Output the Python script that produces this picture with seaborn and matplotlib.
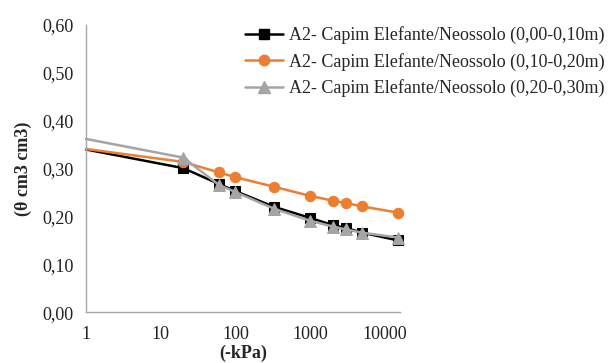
import numpy as np
import pandas as pd
import matplotlib
matplotlib.use("Agg")
import matplotlib.pyplot as plt
import seaborn as sns
from matplotlib.lines import Line2D
from matplotlib.ticker import FixedLocator, FuncFormatter, NullLocator

sns.set_theme(style="white")
plt.rcParams['font.family'] = ['Liberation Serif', 'DejaVu Serif']

# Data: pressure (-kPa); first point (1 kPa) is the curve start without a marker
pressure = [1, 20, 60, 100, 330, 1000, 2000, 3000, 5000, 15000]
theta_0_10 = [0.340, 0.301, 0.268, 0.253, 0.220, 0.197, 0.182, 0.176, 0.166, 0.150]
theta_10_20 = [0.341, 0.314, 0.292, 0.282, 0.262, 0.243, 0.233, 0.228, 0.221, 0.208]
theta_20_30 = [0.362, 0.323, 0.266, 0.251, 0.216, 0.191, 0.179, 0.173, 0.166, 0.156]

labels = ["A2- Capim Elefante/Neossolo (0,00-0,10m)",
          "A2- Capim Elefante/Neossolo (0,10-0,20m)",
          "A2- Capim Elefante/Neossolo (0,20-0,30m)"]
colors = ["#000000", "#ED7D31", "#A5A5A5"]
markers = ["s", "o", "^"]
msizes = [7, 7.5, 8]

fig = plt.figure(figsize=(6.1, 3.63), dpi=100)
ax = fig.add_axes([0.141, 0.140, 0.515, 0.791])

handles = []
for vals, lab, col, mk, ms in zip([theta_0_10, theta_10_20, theta_20_30],
                                  labels, colors, markers, msizes):
    df = pd.DataFrame({"kpa": pressure, "theta": vals})
    sns.lineplot(data=df, x="kpa", y="theta", ax=ax, color=col,
                 marker=mk, markersize=ms, markeredgecolor=col, linewidth=1.8,
                 markevery=list(range(1, len(pressure))), estimator=None,
                 clip_on=False, legend=False)
    handles.append(Line2D([], [], color=col, marker=mk, markersize=ms,
                          markeredgecolor=col, linewidth=1.8, label=lab))

ax.set_xscale("log")
ax.set_xlim(1, 16000)
ax.set_ylim(0, 0.6)
ax.xaxis.set_major_locator(FixedLocator([1, 10, 100, 1000, 10000]))
ax.xaxis.set_minor_locator(NullLocator())
ax.xaxis.set_major_formatter(FuncFormatter(lambda v, p: f"{int(v)}"))
ax.set_yticks(np.arange(0, 0.61, 0.1))
ax.yaxis.set_major_formatter(FuncFormatter(lambda v, p: f"{v:.2f}".replace(".", ",")))

for s in ["top", "right"]:
    ax.spines[s].set_visible(False)
for s in ["left", "bottom"]:
    ax.spines[s].set_color("#A6A6A6")
    ax.spines[s].set_linewidth(1.0)
ax.tick_params(axis="both", which="major", direction="out", length=5,
               color="#A6A6A6", labelsize=13, labelcolor="#222222", pad=4)
ax.tick_params(axis="x", pad=5)

ax.set_xlabel("(-kPa)", fontsize=13, fontweight="bold", labelpad=1)
ax.set_ylabel("(θ cm3 cm3)", fontsize=13, fontweight="bold", labelpad=7)

ax.legend(handles=handles, loc="upper left", bbox_to_anchor=(238 / 610, 1 - 19 / 363),
          bbox_transform=fig.transFigure, frameon=False, fontsize=13,
          handlelength=2.1, handletextpad=0.3, labelspacing=0.47, borderaxespad=0)

fig.savefig("out.png", dpi=100)
